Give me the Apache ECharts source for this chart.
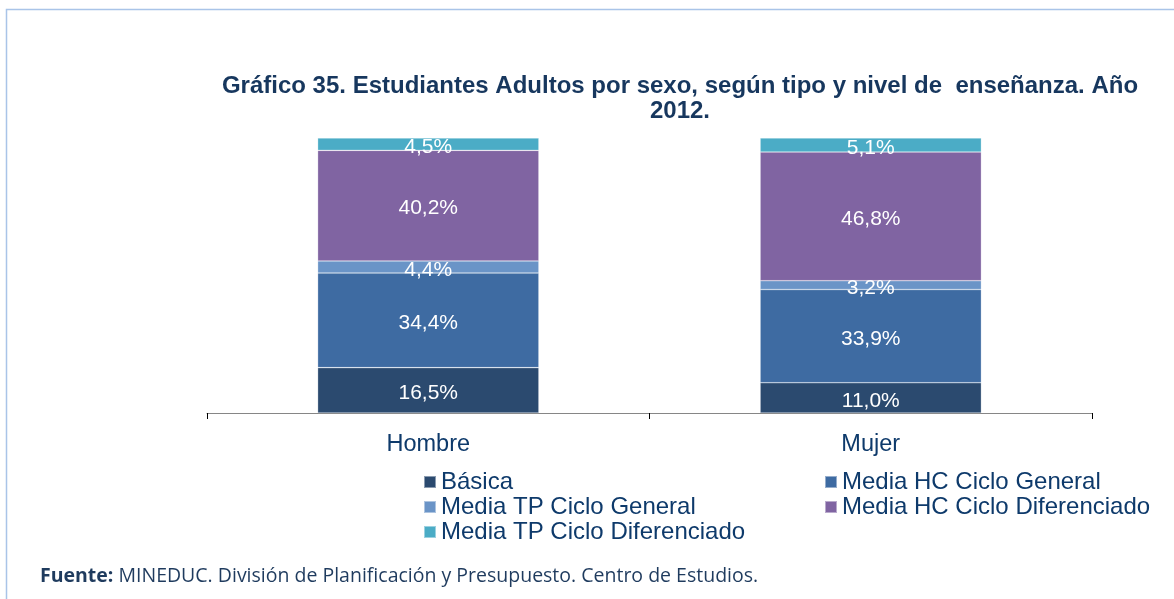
<!DOCTYPE html>
<html>
<head>
<meta charset="utf-8">
<style>
  html, body { margin: 0; padding: 0; background: #ffffff; }
  #chart { width: 1174px; height: 599px; }
</style>
<script src="https://cdn.jsdelivr.net/npm/echarts@6/dist/echarts.min.js"></script>
</head>
<body>
<div id="chart"></div>
<script>
// Students by sex, stacked by type and level of teaching (percent)
const categories = ['Hombre', 'Mujer'];
const seriesNames = [
  'Básica',
  'Media HC Ciclo General',
  'Media TP Ciclo General',
  'Media HC Ciclo Diferenciado',
  'Media TP Ciclo Diferenciado'
];
const basica = [16.5, 11.0];
const mediaHCGeneral = [34.4, 33.9];
const mediaTPGeneral = [4.4, 3.2];
const mediaHCDiferenciado = [40.2, 46.8];
const mediaTPDiferenciado = [4.5, 5.1];

const seriesValues = [basica, mediaHCGeneral, mediaTPGeneral, mediaHCDiferenciado, mediaTPDiferenciado];
const colors = ['#2B4A6F', '#3E6BA2', '#6A94C7', '#8064A2', '#4BACC6'];
const textBlue = '#0E3A6B';
const sansFont = 'Liberation Sans, Arial, sans-serif';

const chart = echarts.init(document.getElementById('chart'), null, { renderer: 'canvas' });

const series = seriesNames.map((name, i) => ({
  name: name,
  type: 'bar',
  stack: 'total',
  barWidth: '50%',
  data: seriesValues[i],
  itemStyle: { color: colors[i], borderColor: 'rgba(255,255,255,0.45)', borderWidth: 0.6 },
  label: {
    show: true,
    position: 'inside',
    offset: [0, 3],
    color: '#ffffff',
    fontFamily: sansFont,
    fontSize: 21,
    formatter: p => p.value.toFixed(1).replace('.', ',') + '%'
  }
}));

const legendCommon = {
  orient: 'vertical',
  padding: 0,
  itemWidth: 12,
  itemHeight: 12,
  itemGap: 1,
  icon: 'rect',
  selectedMode: false,
  textStyle: { color: textBlue, fontSize: 24, fontFamily: sansFont, lineHeight: 24 }
};

chart.setOption({
  animation: false,
  backgroundColor: '#ffffff',
  title: {
    text: 'Gráfico 35. Estudiantes Adultos por sexo, según tipo y nivel de  enseñanza. Año\n2012.',
    left: 675,
    top: 69,
    textAlign: 'center',
    textStyle: {
      color: '#17375E',
      fontSize: 24,
      fontWeight: 'bold',
      fontFamily: sansFont,
      lineHeight: 25,
      align: 'center'
    }
  },
  legend: [
    Object.assign({}, legendCommon, { left: 423, top: 470, data: [seriesNames[0], seriesNames[2], seriesNames[4]] }),
    Object.assign({}, legendCommon, { left: 824, top: 470, data: [seriesNames[1], seriesNames[3]] })
  ],
  grid: { left: 207, right: 82, top: 138, bottom: 186, containLabel: false },
  xAxis: {
    type: 'category',
    data: categories,
    axisLine: { lineStyle: { color: '#868686', width: 1 } },
    axisTick: { show: true, length: 6, lineStyle: { color: '#000000' } },
    axisLabel: { color: textBlue, fontSize: 23.5, fontFamily: sansFont, margin: 20 }
  },
  yAxis: {
    type: 'value',
    min: 0,
    max: 100,
    show: false,
    splitLine: { show: false }
  },
  graphic: [
    {
      type: 'polyline',
      shape: { points: [[6.5, 599], [6.5, 9.5], [1174, 9.5]] },
      style: { stroke: '#A9C4E8', lineWidth: 1.5, fill: null }
    },
    {
      type: 'text',
      left: 40,
      top: 566,
      style: {
        text: '{b|Fuente:} MINEDUC. División de Planificación y Presupuesto. Centro de Estudios.',
        rich: {
          b: { fontWeight: 'bold', fontSize: 19.5, fill: '#1F3B5E', fontFamily: 'Open Sans, Noto Sans, sans-serif' }
        },
        fontSize: 19.5,
        fill: '#1F3B5E',
        fontFamily: 'Open Sans, Noto Sans, sans-serif'
      }
    }
  ],
  series: series
});
</script>
</body>
</html>
